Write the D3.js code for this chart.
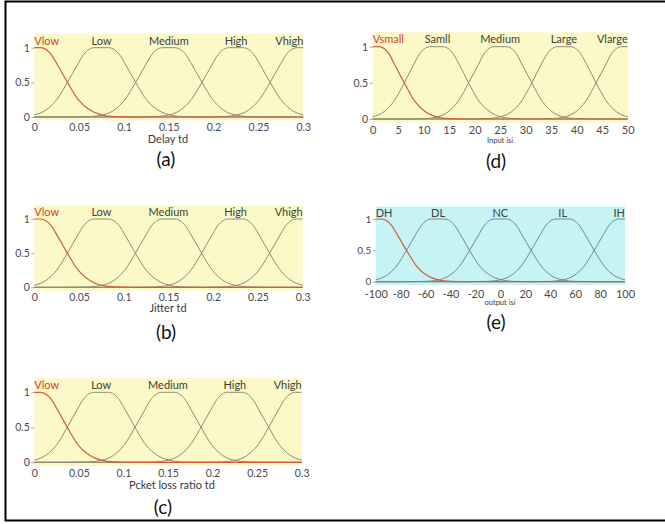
<!DOCTYPE html>
<html>
<head>
<meta charset="utf-8">
<script src="https://cdn.jsdelivr.net/npm/d3@7"></script>
<style>
  body { margin: 0; background: #fff; }
  svg { display: block; font-family: Lato, 'Open Sans', sans-serif; }
</style>
</head>
<body>
<svg id="chart" width="665" height="524"></svg>
<script>
// membership function points, [x, degree]
const tdNames = ['Vlow', 'Low', 'Medium', 'High', 'Vhigh'];
const tdLabelX = [0, 0.075, 0.15, 0.225, 0.3];
const tdVlow = [[0,1],[0.007,1],[0.019,0.9],[0.026,0.75],[0.037,0.5],[0.049,0.25],[0.062,0.1],[0.075,0.03],[0.09,0.005],[0.11,0],[0.3,0]];
const tdLow = [[0,0.03],[0.013,0.1],[0.025,0.25],[0.037,0.5],[0.048,0.75],[0.055,0.9],[0.067,1],[0.083,1],[0.095,0.9],[0.102,0.75],[0.113,0.5],[0.125,0.25],[0.138,0.1],[0.151,0.03],[0.166,0.005],[0.19,0],[0.3,0]];
const tdMedium = [[0,0],[0.035,0],[0.06,0.005],[0.076,0.03],[0.089,0.1],[0.101,0.25],[0.113,0.5],[0.124,0.75],[0.131,0.9],[0.143,1],[0.157,1],[0.169,0.9],[0.176,0.75],[0.187,0.5],[0.199,0.25],[0.211,0.1],[0.224,0.03],[0.24,0.005],[0.265,0],[0.3,0]];
const tdHigh = [[0,0],[0.11,0],[0.134,0.005],[0.15,0.03],[0.163,0.1],[0.175,0.25],[0.187,0.5],[0.198,0.75],[0.205,0.9],[0.217,1],[0.233,1],[0.245,0.9],[0.252,0.75],[0.263,0.5],[0.275,0.25],[0.287,0.1],[0.3,0.03]];
const tdVhigh = [[0,0],[0.185,0],[0.21,0.005],[0.226,0.03],[0.239,0.1],[0.251,0.25],[0.263,0.5],[0.274,0.75],[0.281,0.9],[0.293,1],[0.3,1]];
const tdTicks = [0, 0.05, 0.1, 0.15, 0.2, 0.25, 0.3];
const tdTickLabels = ['0', '0.05', '0.1', '0.15', '0.2', '0.25', '0.3'];

const inNames = ['Vsmall', 'Samll', 'Medium', 'Large', 'Vlarge'];
const inLabelX = [0, 12.7, 25, 37.5, 50];
const inVsmall = [[0,1],[1.2,1],[3.2,0.9],[4.3,0.75],[6.2,0.5],[8.2,0.25],[10.3,0.1],[12.5,0.03],[15,0.005],[18,0],[50,0]];
const inSamll = [[0,0.03],[2.2,0.1],[4.2,0.25],[6.2,0.5],[8,0.75],[9.2,0.9],[11.2,1],[13.8,1],[15.8,0.9],[17,0.75],[18.8,0.5],[20.8,0.25],[23,0.1],[25.2,0.03],[27.7,0.005],[31.7,0],[50,0]];
const inMedium = [[0,0],[5.8,0],[10,0.005],[12.7,0.03],[14.8,0.1],[16.8,0.25],[18.8,0.5],[20.7,0.75],[21.8,0.9],[23.8,1],[26.2,1],[28.2,0.9],[29.3,0.75],[31.2,0.5],[33.2,0.25],[35.2,0.1],[37.3,0.03],[40,0.005],[44.2,0],[50,0]];
const inLarge = [[0,0],[18.3,0],[22.3,0.005],[25,0.03],[27.2,0.1],[29.2,0.25],[31.2,0.5],[33,0.75],[34.2,0.9],[36.2,1],[38.8,1],[40.8,0.9],[42,0.75],[43.8,0.5],[45.8,0.25],[47.8,0.1],[50,0.03]];
const inVlarge = [[0,0],[30.8,0],[35,0.005],[37.7,0.03],[39.8,0.1],[41.8,0.25],[43.8,0.5],[45.7,0.75],[46.8,0.9],[48.8,1],[50,1]];
const inTicks = [0, 5, 10, 15, 20, 25, 30, 35, 40, 45, 50];

const outNames = ['DH', 'DL', 'NC', 'IL', 'IH'];
const outLabelX = [-100, -50, 0, 50, 100];
const outDH = [[-100,1],[-95.3,1],[-87.3,0.9],[-82.7,0.75],[-75.3,0.5],[-67.3,0.25],[-58.7,0.1],[-50,0.03],[-40,0.005],[-26.7,0],[100,0]];
const outDL = [[-100,0.03],[-91.3,0.1],[-83.3,0.25],[-75.3,0.5],[-68,0.75],[-63.3,0.9],[-55.3,1],[-44.7,1],[-36.7,0.9],[-32,0.75],[-24.7,0.5],[-16.7,0.25],[-8,0.1],[0.7,0.03],[10.7,0.005],[26.7,0],[100,0]];
const outNC = [[-100,0],[-76.7,0],[-60,0.005],[-49.3,0.03],[-40.7,0.1],[-32.7,0.25],[-24.7,0.5],[-17.3,0.75],[-12.7,0.9],[-4.7,1],[4.7,1],[12.7,0.9],[17.3,0.75],[24.7,0.5],[32.7,0.25],[40.7,0.1],[49.3,0.03],[60,0.005],[76.7,0],[100,0]];
const outIL = [[-100,0],[-26.7,0],[-10.7,0.005],[0,0.03],[8.7,0.1],[16.7,0.25],[24.7,0.5],[32,0.75],[36.7,0.9],[44.7,1],[55.3,1],[63.3,0.9],[68,0.75],[75.3,0.5],[83.3,0.25],[91.3,0.1],[100,0.03]];
const outIH = [[-100,0],[23.3,0],[40,0.005],[50.7,0.03],[59.3,0.1],[67.3,0.25],[75.3,0.5],[82.7,0.75],[87.3,0.9],[95.3,1],[100,1]];
const outTicks = [-100, -80, -60, -40, -20, 0, 20, 40, 60, 80, 100];

const yTicks = [0, 0.5, 1];
const yTickLabels = ['0', '0.5', '1'];

const svg = d3.select('#chart');
const yellow = '#fcf9c9';
const cyan = '#c6f3f4';

// page frame (right side is cut off in the original)
svg.append('path')
  .attr('d', 'M667,1.5H5.5V520.5H667')
  .attr('fill', 'none')
  .attr('stroke', '#000')
  .attr('stroke-width', 2);

const tdCurves = [tdVlow, tdLow, tdMedium, tdHigh, tdVhigh];

const panels = [
  { curves: tdCurves, names: tdNames, labelX: tdLabelX, ticks: tdTicks, tickLabels: tdTickLabels,
    domain: [0, 0.3], left: 34.3, right: 303.3, one: 47.7, zero: 117,
    tickY: 131, title: 'Delay td', titleX: 168, titleY: 143, titleSize: 11, ySize: 10.5,
    cap: '(a)', capX: 166, capY: 166, bg: yellow, line: '#8c8c74', firstRed: true },
  { curves: tdCurves, names: tdNames, labelX: tdLabelX, ticks: tdTicks, tickLabels: tdTickLabels,
    domain: [0, 0.3], left: 34.3, right: 302.7, one: 219, zero: 287.3,
    tickY: 300.5, title: 'Jitter td', titleX: 168, titleY: 312, titleSize: 11, ySize: 10.5,
    cap: '(b)', capX: 166, capY: 339, bg: yellow, line: '#8c8c74', firstRed: true },
  { curves: tdCurves, names: tdNames, labelX: tdLabelX, ticks: tdTicks, tickLabels: tdTickLabels,
    domain: [0, 0.3], left: 34.3, right: 301.7, one: 392.3, zero: 462.3,
    tickY: 477, title: 'Pcket loss ratio td', titleX: 172, titleY: 488.5, titleSize: 11, ySize: 10.5,
    cap: '(c)', capX: 163, capY: 514, bg: yellow, line: '#8c8c74', firstRed: true },
  { curves: [inVsmall, inSamll, inMedium, inLarge, inVlarge], names: inNames, labelX: inLabelX,
    ticks: inTicks, tickLabels: inTicks.map(String),
    domain: [0, 50], left: 372.7, right: 627.7, one: 46.7, zero: 119,
    tickY: 134, title: 'Input isi', titleX: 500, titleY: 142.5, titleSize: 7.5, ySize: 10.5,
    cap: '(d)', capX: 496, capY: 168, bg: yellow, line: '#8c8c74', firstRed: true },
  { curves: [outDH, outDL, outNC, outIL, outIH], names: outNames, labelX: outLabelX,
    ticks: outTicks, tickLabels: outTicks.map(String),
    domain: [-100, 100], left: 375.7, right: 625, one: 219, zero: 281.7,
    tickY: 297.5, title: 'output isi', titleX: 500, titleY: 305, titleSize: 7.5, ySize: 10,
    cap: '(e)', capX: 496, capY: 329, bg: cyan, line: '#748888', firstRed: false },
];

function drawPanel(p) {
  const x = d3.scaleLinear().domain(p.domain).range([p.left, p.right]);
  const y = d3.scaleLinear().domain([0, 1]).range([p.zero, p.one]);
  const g = svg.append('g');

  // plot background
  g.append('rect')
    .attr('x', x(p.domain[0]))
    .attr('y', y(1.2))
    .attr('width', x(p.domain[1]) - x(p.domain[0]))
    .attr('height', y(-0.05) - y(1.2))
    .attr('fill', p.bg);

  // x axis, labels only
  g.append('g')
    .attr('transform', `translate(0,${p.tickY})`)
    .call(d3.axisBottom(x).tickValues(p.ticks)
      .tickFormat((d, i) => p.tickLabels[i]).tickSize(0).tickPadding(0))
    .call((a) => a.select('.domain').remove())
    .call((a) => a.selectAll('text')
      .attr('y', 0).attr('dy', 0)
      .attr('fill', '#4a4a4a')
      .style('font-size', p.titleSize < 10 ? '11px' : '10.5px')
      .style('font-family', 'Lato, sans-serif'));

  // y axis
  g.append('g')
    .attr('transform', `translate(${p.left},0)`)
    .call(d3.axisLeft(y).tickValues(yTicks)
      .tickFormat((d, i) => yTickLabels[i]).tickSize(3).tickPadding(1.5))
    .call((a) => a.select('.domain').remove())
    .call((a) => a.selectAll('line').attr('stroke', '#aaa'))
    .call((a) => a.selectAll('text')
      .attr('fill', '#4a4a4a')
      .style('font-size', `${p.ySize}px`)
      .style('font-family', 'Lato, sans-serif'));

  const line = d3.line()
    .x((d) => x(d[0]))
    .y((d) => y(d[1]))
    .curve(d3.curveMonotoneX);

  // gray curves first, highlighted one on top
  g.selectAll('.mf')
    .data(p.curves.slice(1))
    .join('path')
    .attr('class', 'mf')
    .attr('d', line)
    .attr('fill', 'none')
    .attr('stroke', p.line)
    .attr('stroke-width', 1);

  g.append('path')
    .attr('d', line(p.curves[0]))
    .attr('fill', 'none')
    .attr('stroke', '#d65a3e')
    .attr('stroke-width', 1.2);

  // mf names
  g.selectAll('.mfName')
    .data(p.names)
    .join('text')
    .attr('class', 'mfName')
    .attr('x', (d, i) => x(p.labelX[i]))
    .attr('y', y(1.1))
    .attr('dy', '0.35em')
    .attr('text-anchor', (d, i) => {
      if (i === 0) return 'start';
      if (i === p.names.length - 1) return 'end';
      return 'middle';
    })
    .attr('fill', (d, i) => (i === 0 && p.firstRed ? '#d23f2c' : '#3a3f3a'))
    .style('font-size', '11px')
    .text((d) => d);

  // axis title and caption
  g.append('text')
    .attr('x', p.titleX)
    .attr('y', p.titleY)
    .attr('text-anchor', 'middle')
    .attr('fill', '#3a3a3a')
    .style('font-size', `${p.titleSize}px`)
    .text(p.title);

  g.append('text')
    .attr('x', p.capX)
    .attr('y', p.capY)
    .attr('text-anchor', 'middle')
    .attr('fill', '#111')
    .style('font-size', '19px')
    .text(p.cap);
}

panels.forEach(drawPanel);
</script>
</body>
</html>
